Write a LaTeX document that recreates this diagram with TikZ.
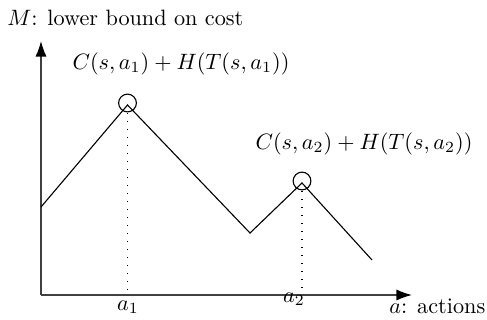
\documentclass[tikz,border=0pt]{standalone}
\usetikzlibrary{arrows.meta}
\begin{document}
\begin{tikzpicture}[x=0.45pt,y=-0.45pt,
  axis/.style={-{Latex[length=7pt,width=5pt,color=black]},line width=0.6pt,draw=black!75},
  curve/.style={line width=0.5pt},
  mark circ/.style={circle,draw,line width=0.5pt,minimum size=8pt,inner sep=0pt},
  dots/.style={dash pattern=on 0.5pt off 3.1pt,line width=0.55pt},
  lbl/.style={inner sep=0pt}]
\useasboundingbox (0,0) rectangle (487,320);
\coordinate (O) at (41,295);
\coordinate (ytip) at (41,41);
\coordinate (xtip) at (412,295);
\draw[axis] (O) -- (ytip);
\draw[axis] (O) -- (xtip);
\coordinate (p0) at (41,207);
\coordinate (p1) at (127.5,105);
\coordinate (p2) at (250,233);
\coordinate (p3) at (302,183);
\coordinate (p4) at (372,260);
\draw[curve] (p0) -- (p1) -- (p2) -- (p3) -- (p4);
\node[mark circ] (c1) at (127.5,103) {};
\node[mark circ] (c2) at (302,181) {};
\coordinate (b1) at (127.5,295);
\coordinate (b2) at (302,295);
\draw[dots] (p1) -- (b1);
\draw[dots] (p3) -- (b2);
\node[lbl,anchor=west] (ylab) at (7,18) {$M$: lower bound on cost};
\node[lbl] (l1) at (181,64) {$C(s,a_1)+H(T(s,a_1))$};
\node[lbl] (l2) at (364,144) {$C(s,a_2)+H(T(s,a_2))$};
\node[lbl] (a1) at (128,307) {$a_1$};
\node[lbl] (a2) at (294,299) {$a_2$};
\node[lbl,anchor=west] (xlab) at (389,306) {$a$: actions};
\end{tikzpicture}
\end{document}
